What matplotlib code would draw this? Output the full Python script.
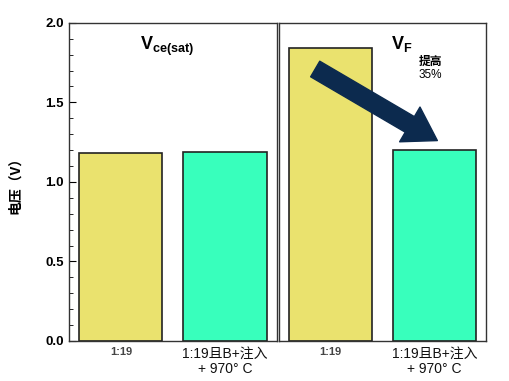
import matplotlib
matplotlib.use("Agg")
import matplotlib.pyplot as plt
from matplotlib.ticker import MultipleLocator

plt.rcParams['font.family'] = ['Liberation Sans', 'Noto Sans CJK SC', 'DejaVu Sans']
plt.rcParams['mathtext.fontset'] = 'custom'
plt.rcParams['mathtext.rm'] = 'Liberation Sans'
plt.rcParams['mathtext.bf'] = 'Liberation Sans:bold'

# data
groups = ["Vce(sat)", "VF"]
categories = ["1:19", "1:19且B+注入\n+ 970° C"]
vce_sat = [1.18, 1.19]
vf = [1.84, 1.20]
ylabel = "电压（V）"
note_top = "提高"
note_bottom = "35%"

colors = ["#EAE26E", "#38FFBC"]
edge = "#222222"

fig = plt.figure(figsize=(5.1, 3.81), dpi=100)
ax1 = fig.add_axes([0.135, 0.105, 0.408, 0.835])
ax2 = fig.add_axes([0.547, 0.105, 0.406, 0.835])

for ax, vals in zip([ax1, ax2], [vce_sat, vf]):
    ax.bar(range(len(vals)), vals, width=0.8, color=colors, edgecolor=edge, linewidth=1.2)
    ax.set_xlim(-0.5, 1.5)
    ax.set_ylim(0, 2.0)
    ax.set_xticks(range(len(categories)))
    ax.set_xticklabels([])
    ax.tick_params(axis='x', length=0)
    for s in ax.spines.values():
        s.set_color("#333333")
        s.set_linewidth(1.0)
    for i, c in enumerate(categories):
        if i == 0:
            ax.text(i, -0.035, c, ha='center', va='top', fontsize=8, fontweight='bold',
                    color='#444444')
        else:
            ax.text(i, -0.035, c, ha='center', va='top', fontsize=10, color='#111111',
                    family=['Liberation Sans', 'Noto Sans CJK SC'], linespacing=1.15)

ax1.yaxis.set_major_locator(MultipleLocator(0.5))
ax1.yaxis.set_minor_locator(MultipleLocator(0.1))
ax1.tick_params(axis='y', which='major', direction='in', length=5, labelsize=9.5)
ax1.tick_params(axis='y', which='minor', direction='in', length=3)
for lbl in ax1.get_yticklabels():
    lbl.set_fontweight('bold')
ax1.yaxis.set_major_formatter(plt.FormatStrFormatter('%.1f'))
ax1.set_ylabel(ylabel, family=['Noto Sans CJK SC', 'DejaVu Sans'], fontweight='bold',
               fontsize=10, labelpad=17)
ax2.set_yticks([])

ax1.text(0.44, 1.85, r'$\mathbf{V}_{\mathbf{ce(sat)}}$', ha='center', va='center', fontsize=13)
ax2.text(0.69, 1.87, r'$\mathbf{V}_{\mathbf{F}}$', ha='center', va='center', fontsize=13)
ax2.text(0.96, 1.76, note_top, ha='center', va='center', fontsize=8.5, fontweight='bold',
         family=['Noto Sans CJK SC', 'DejaVu Sans'])
ax2.text(0.96, 1.67, note_bottom, ha='center', va='center', fontsize=8.5)

ax2.annotate("", xy=(1.03, 1.26), xytext=(-0.15, 1.71),
             arrowprops=dict(arrowstyle="simple,head_length=1.15,head_width=1.45,tail_width=0.65",
                             mutation_scale=20, color="#0C2A4E", shrinkA=0, shrinkB=0))

fig.savefig("out.png", dpi=100)
